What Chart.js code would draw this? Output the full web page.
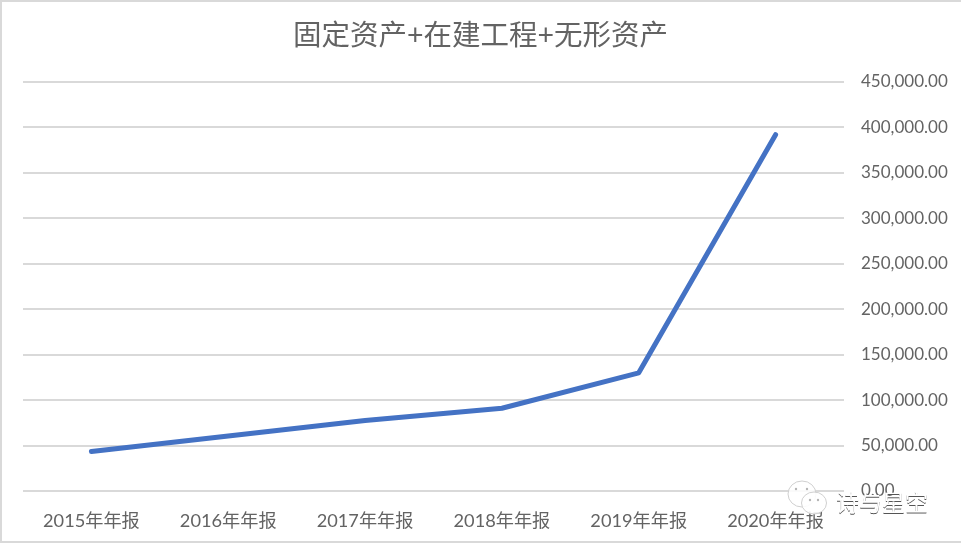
<!DOCTYPE html>
<html>
<head>
<meta charset="utf-8">
<style>
  html, body { margin: 0; padding: 0; background: #fff; overflow: hidden; }
  canvas { display: block; }
</style>
<script src="https://cdn.jsdelivr.net/npm/chart.js@4"></script>
</head>
<body>
<canvas id="assetChart" width="961" height="543"></canvas>
<script>
const chartTitle = '固定资产+在建工程+无形资产';
const categories = ['2015年年报', '2016年年报', '2017年年报', '2018年年报', '2019年年报', '2020年年报'];
const assetValues = [43500, 60500, 77500, 91000, 130000, 392000];
const watermarkText = '诗与星空';

const fontStack = 'Lato, "Noto Sans CJK SC", sans-serif';
const textColor = '#636363';

// outer frame, the chart has no right edge line in the picture
const framePlugin = {
  id: 'frame',
  beforeDraw(chart) {
    const c = chart.ctx;
    c.save();
    c.fillStyle = '#d9d9d9';
    c.fillRect(0, 0, chart.width, 2);
    c.fillRect(0, 0, 2, chart.height);
    c.fillRect(0, chart.height - 2, chart.width, 2);
    c.restore();
  }
};

// wechat style stamp sitting on top of the chart
const watermarkPlugin = {
  id: 'watermark',
  afterDraw(chart) {
    const c = chart.ctx;
    c.save();
    c.strokeStyle = '#cfcfcf';
    c.lineWidth = 1;
    c.fillStyle = 'rgba(255,255,255,0.85)';
    c.beginPath();
    c.ellipse(802, 494, 14, 13, 0, 0, Math.PI * 2);
    c.fill();
    c.stroke();
    c.fillStyle = 'rgba(255,255,255,0.9)';
    c.beginPath();
    c.ellipse(814, 503, 12.5, 11, 0, 0, Math.PI * 2);
    c.fill();
    c.stroke();
    c.fillStyle = '#b5b5b5';
    [[796, 489], [807, 489], [810, 500], [818, 500]].forEach(([x, y]) => {
      c.beginPath();
      c.arc(x, y, 1.2, 0, Math.PI * 2);
      c.fill();
    });
    c.font = '23px "Noto Sans CJK SC", sans-serif';
    c.textAlign = 'left';
    c.textBaseline = 'middle';
    c.fillStyle = '#555555';
    c.fillText(watermarkText, 836, 503);
    c.fillStyle = '#ffffff';
    c.fillText(watermarkText, 836, 502);
    c.restore();
  }
};

new Chart(document.getElementById('assetChart').getContext('2d'), {
  type: 'line',
  data: {
    labels: categories,
    datasets: [{
      label: chartTitle,
      data: assetValues,
      borderColor: '#4472c4',
      borderWidth: 5,
      borderCapStyle: 'round',
      borderJoinStyle: 'round',
      pointRadius: 0,
      tension: 0,
      clip: false
    }]
  },
  options: {
    responsive: false,
    animation: false,
    plugins: {
      legend: { display: false },
      tooltip: { enabled: false },
      title: {
        display: true,
        text: chartTitle,
        color: textColor,
        font: { family: fontStack, size: 28.5, weight: 'normal' },
        padding: { top: 19, bottom: 28.8 }
      }
    },
    scales: {
      x: {
        offset: true,
        grid: { display: false },
        border: { display: false },
        ticks: {
          color: textColor,
          font: { family: fontStack, size: 18.2 },
          padding: 11,
          maxRotation: 0,
          autoSkip: false
        },
        afterFit(scale) { scale.height = 52; }
      },
      y: {
        position: 'right',
        min: 0,
        max: 450000,
        grid: { color: '#d9d9d9', lineWidth: 2, drawTicks: false },
        border: { display: false },
        ticks: {
          stepSize: 50000,
          color: textColor,
          font: { family: fontStack, size: 17 },
          padding: 17,
          callback: v => v.toLocaleString('en-US', { minimumFractionDigits: 2, maximumFractionDigits: 2 })
        },
        afterFit(scale) { scale.width = 117; }
      },
      // empty axis, only holds the left margin so the title stays centred on the full width
      leftMargin: {
        position: 'left',
        grid: { display: false },
        border: { display: false },
        ticks: { display: false },
        afterFit(scale) { scale.width = 23; }
      }
    }
  },
  plugins: [framePlugin, watermarkPlugin]
});
</script>
</body>
</html>
